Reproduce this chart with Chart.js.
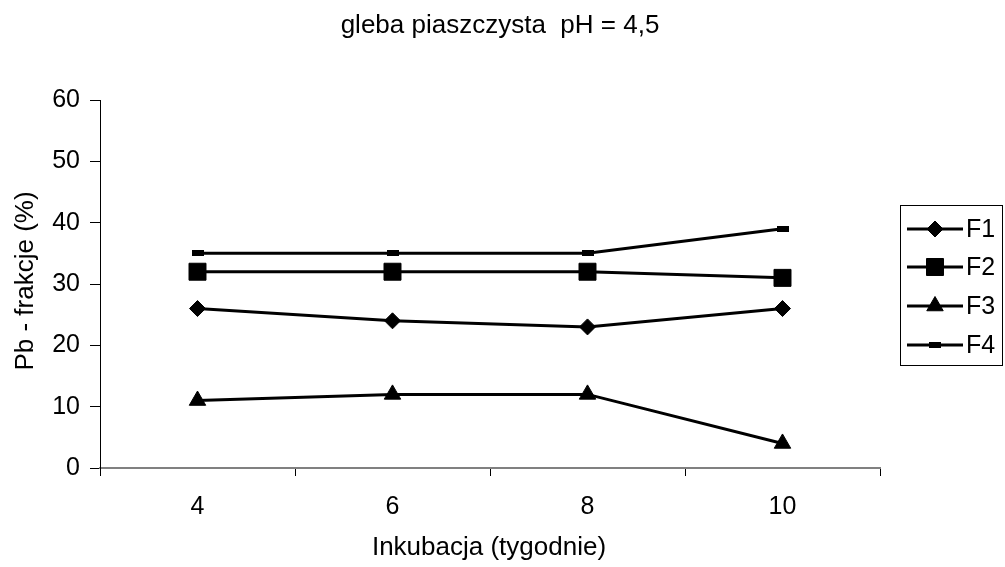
<!DOCTYPE html>
<html>
<head>
<meta charset="utf-8">
<script src="https://cdn.jsdelivr.net/npm/chart.js@4/dist/chart.umd.min.js"></script>
<style>
  html, body { margin: 0; padding: 0; background: #fff; }
  #wrap { width: 1005px; height: 567px; position: relative; }
</style>
</head>
<body>
<div id="wrap"><canvas id="c" width="1005" height="567"></canvas></div>
<script>
// Incubation time (weeks) and Pb fraction shares (%)
const weeks = ['4', '6', '8', '10'];
const f1 = [26, 24, 23, 26];
const f2 = [32, 32, 32, 31];
const f3 = [11, 12, 12, 4];
const f4 = [35, 35, 35, 39];
const seriesNames = ['F1', 'F2', 'F3', 'F4'];
const yTicks = [0, 10, 20, 30, 40, 50, 60];

const titleText = 'gleba piaszczysta  pH = 4,5';
const xTitle = 'Inkubacja (tygodnie)';
const yTitle = 'Pb - frakcje (%)';
const FONT = '"Liberation Sans", Arial, sans-serif';

// small flat bar marker for F4
const dash = document.createElement('canvas');
dash.width = 12; dash.height = 6;
(function () {
  const g = dash.getContext('2d');
  g.fillStyle = '#000';
  g.fillRect(0, 0, 12, 6);
})();

const styles = [
  { pointStyle: 'rectRot', radius: 8 },
  { pointStyle: 'rect', radius: 12 },
  { pointStyle: 'triangle', radius: 9.5 },
  { pointStyle: dash, radius: 6 }
];

const values = [f1, f2, f3, f4];
const datasets = values.map((v, i) => ({
  label: seriesNames[i],
  data: v,
  borderColor: '#000',
  backgroundColor: '#000',
  borderWidth: 3,
  pointStyle: styles[i].pointStyle,
  pointRadius: styles[i].radius,
  pointHoverRadius: styles[i].radius,
  pointBackgroundColor: '#000',
  pointBorderColor: '#000',
  pointBorderWidth: 1,
  tension: 0
}));

// Title, axis titles and boxed legend
const decorations = {
  id: 'decorations',
  afterDraw(chart) {
    const ctx = chart.ctx;
    ctx.save();
    ctx.fillStyle = '#000';
    ctx.font = '26px ' + FONT;
    ctx.textAlign = 'center';
    ctx.textBaseline = 'alphabetic';
    ctx.fillText(titleText, 500, 33);
    ctx.fillText(xTitle, 489, 555);
    ctx.save();
    ctx.translate(33, 281);
    ctx.rotate(-Math.PI / 2);
    ctx.fillText(yTitle, 0, 0);
    ctx.restore();

    // legend box
    const lx = 900.5, ly = 205.5, lw = 102, lh = 160;
    ctx.strokeStyle = '#000';
    ctx.lineWidth = 1;
    ctx.strokeRect(lx, ly, lw, lh);
    const rows = [229, 267, 306, 345];
    ctx.textAlign = 'left';
    ctx.textBaseline = 'middle';
    ctx.font = '25px ' + FONT;
    chart.data.datasets.forEach((ds, i) => {
      const y = rows[i];
      ctx.strokeStyle = '#000';
      ctx.lineWidth = 3;
      ctx.beginPath();
      ctx.moveTo(907, y);
      ctx.lineTo(963, y);
      ctx.stroke();
      ctx.fillStyle = '#000';
      ctx.lineWidth = 1;
      Chart.helpers.drawPoint(ctx, {
        pointStyle: ds.pointStyle,
        radius: ds.pointRadius,
        borderWidth: 1,
        rotation: 0
      }, 935, y);
      ctx.fillStyle = '#000';
      ctx.fillText(ds.label, 966, y + 1);
    });
    ctx.restore();
  }
};

new Chart(document.getElementById('c'), {
  type: 'line',
  data: { labels: weeks, datasets },
  plugins: [decorations],
  options: {
    responsive: false,
    animation: false,
    devicePixelRatio: 1,
    layout: { padding: { top: 100, left: 0, right: 125, bottom: 0 } },
    plugins: {
      legend: { display: false },
      title: { display: false },
      tooltip: { enabled: false }
    },
    scales: {
      x: {
        type: 'category',
        offset: true,
        grid: {
          offset: true,
          drawOnChartArea: false,
          drawTicks: true,
          tickLength: 8,
          color: '#000',
          lineWidth: 1
        },
        border: { display: true, color: '#808080', width: 2 },
        ticks: {
          color: '#000',
          font: { family: FONT, size: 25 },
          padding: 16,
          maxRotation: 0
        },
        afterFit(scale) { scale.height = 99; }
      },
      y: {
        min: 0,
        max: 60,
        afterBuildTicks(scale) { scale.ticks = yTicks.map(v => ({ value: v })); },
        grid: {
          drawOnChartArea: false,
          drawTicks: true,
          tickLength: 10,
          color: '#000',
          lineWidth: 1
        },
        border: { display: true, color: '#000', width: 1 },
        ticks: {
          color: '#000',
          font: { family: FONT, size: 25 },
          padding: 10
        },
        afterFit(scale) { scale.width = 100; }
      }
    }
  }
});
</script>
</body>
</html>
